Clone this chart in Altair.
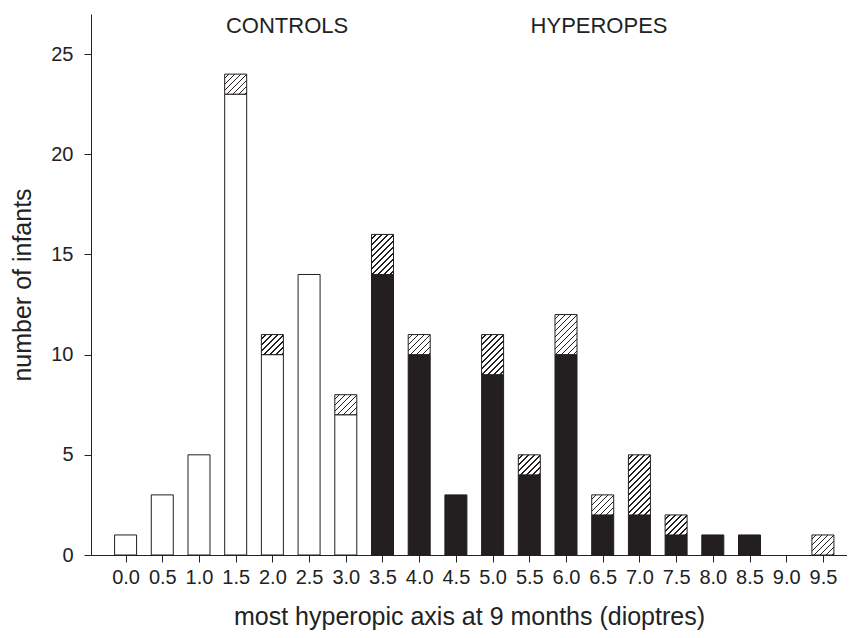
import altair as alt
import pandas as pd

# ---- data ----
dioptres = [0.0, 0.5, 1.0, 1.5, 2.0, 2.5, 3.0, 3.5, 4.0, 4.5,
            5.0, 5.5, 6.0, 6.5, 7.0, 7.5, 8.0, 8.5, 9.0, 9.5]
controls = [1, 3, 5, 23, 10, 14, 7, 0, 0, 0, 0, 0, 0, 0, 0, 0, 0, 0, 0, 0]
hyperopes = [0, 0, 0, 0, 0, 0, 0, 14, 10, 3, 9, 4, 10, 2, 2, 1, 1, 1, 0, 0]
hatched = [0, 0, 0, 1, 1, 0, 1, 2, 1, 0, 2, 1, 2, 1, 3, 1, 0, 0, 0, 1]
y_ticks = [0, 5, 10, 15, 20, 25]
group_labels = ["CONTROLS", "HYPEROPES"]
group_x = [2.2, 6.45]
group_y = [26.4, 26.4]

W, H = 756, 541
Y_MAX = 27
BAR_PX = 22
INK = "#231f20"

rows = []
for d, c, h, s in zip(dioptres, controls, hyperopes, hatched):
    base = c + h
    rows.append({"x": d, "base": base, "kind": "control" if c > 0 else "hyperope",
                 "lo": base, "hi": base + s, "hatch": s})
df = pd.DataFrame(rows)

x_scale = alt.Scale(domain=[-0.403, 9.76], nice=False, zero=False)
y_scale = alt.Scale(domain=[0, Y_MAX], nice=False)

x_axis = alt.Axis(values=dioptres, format=".1f", labelOverlap=False, tickCount=20,
                  title="most hyperopic axis at 9 months (dioptres)")
y_axis = alt.Axis(values=y_ticks, title="number of infants")


def xe():
    return alt.X("x:Q", scale=x_scale, axis=x_axis)


base_layer = alt.Chart(df).transform_filter("datum.base > 0").mark_bar(
    size=BAR_PX, stroke=INK, strokeWidth=1
).encode(
    x=xe(),
    y=alt.Y("base:Q", scale=y_scale, axis=y_axis),
    fill=alt.Fill("kind:N", scale=alt.Scale(domain=["control", "hyperope"],
                                            range=["white", INK]), legend=None),
)


def hatch_gradient(k):
    w = BAR_PX
    h = k * H / Y_MAX
    s = w + h
    a = w * s / (w * w + h * h)
    b = h * s / (w * w + h * h)
    period = 6.0
    thick = 1.5
    stops = [alt.GradientStop(offset=0, color="white")]
    c = period * 0.6
    while c + thick < s:
        t0, t1 = c / s, (c + thick) / s
        stops += [alt.GradientStop(offset=t0, color="white"),
                  alt.GradientStop(offset=t0, color=INK),
                  alt.GradientStop(offset=t1, color=INK),
                  alt.GradientStop(offset=t1, color="white")]
        c += period
    stops.append(alt.GradientStop(offset=1, color="white"))
    return alt.Gradient(gradient="linear", stops=stops, x1=0, y1=0, x2=a, y2=b)


hatch_layers = []
for k in sorted(set(v for v in hatched if v > 0)):
    hatch_layers.append(
        alt.Chart(df).transform_filter(f"datum.hatch == {k}").mark_bar(
            size=BAR_PX, stroke=INK, strokeWidth=1, fill=hatch_gradient(k)
        ).encode(
            x=xe(),
            y=alt.Y("lo:Q", scale=y_scale, axis=y_axis),
            y2="hi:Q",
        )
    )

labels_df = pd.DataFrame({"label": group_labels, "x": group_x, "y": group_y})
text_layer = alt.Chart(labels_df).mark_text(
    font="Liberation Sans", fontSize=22, color="#222", align="center", baseline="middle"
).encode(
    x=xe(),
    y=alt.Y("y:Q", scale=y_scale, axis=y_axis),
    text="label:N",
)

chart = alt.layer(base_layer, *hatch_layers, text_layer).properties(
    width=W, height=H,
    autosize=alt.AutoSizeParams(type="none"),
    padding={"left": 83, "top": 6, "right": 0, "bottom": 75},
).configure_view(stroke=None).configure_axis(
    grid=False,
    domainColor="#222",
    tickColor="#222",
    tickSize=7,
    labelOverlap=False,
    labelFont="Liberation Sans",
    titleFont="Liberation Sans",
    labelFontSize=20,
    titleFontSize=25,
    labelColor="#222",
    titleColor="#222",
    titleFontWeight="normal",
).configure_axisX(
    labelPadding=5, titlePadding=17, labelFlush=False
).configure_axisY(
    labelPadding=11, titlePadding=15
)

chart.save("out.html", embed_options={"renderer": "svg", "actions": False})
